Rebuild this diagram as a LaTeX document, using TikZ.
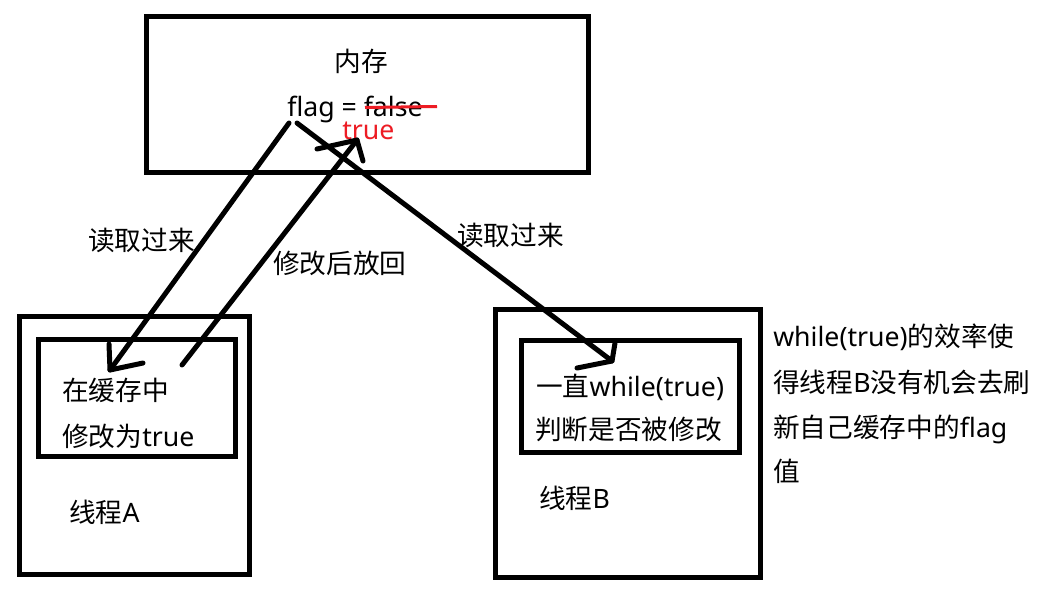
\documentclass[tikz,border=0pt]{standalone}
\usepackage{fontspec}
\setmainfont{Noto Sans}
\newfontfamily\cjk{Noto Sans CJK SC}
\definecolor{pred}{RGB}{237,28,36}
\begin{document}
\begin{tikzpicture}[x=0.75pt,y=-0.75pt,
  box/.style={draw=black,line width=3.75pt},
  arr/.style={draw=black,line width=3.75pt,line cap=round,line join=round},
  txt/.style={inner sep=0,anchor=base west,font=\fontsize{20}{24}\selectfont}]
\useasboundingbox[fill=white] (0,0) rectangle (1044,600);

% boxes
\draw[box] (146,16) rectangle (588,172);
\draw[box] (19.5,316) rectangle (249.5,574);
\draw[box] (38.5,339) rectangle (235,456);
\draw[box] (495.5,309.5) rectangle (760.5,577.5);
\draw[box] (521.5,340.5) rectangle (739.5,452.5);

% memory texts
\node[txt,anchor=base] (mem) at (361,71) {\cjk 内存};
\node[txt] (flag) at (287,116) {flag = false};
\draw[pred,line width=2.25pt] (365,107.5) -- (437,106.5);
\node[txt,text=pred] (tru) at (342,139) {true};

% thread A texts
\node[txt] (a1) at (62,400) {{\cjk 在缓存中}};
\node[txt] (a2) at (62,446) {{\cjk 修改为}true};
\node[txt] (ta) at (69,522) {{\cjk 线程}A};

% thread B texts
\node[txt] (b1) at (536,396) {{\cjk 一直}while(true)};
\node[txt] (b2) at (535,439) {\cjk 判断是否被修改};
\node[txt] (tb) at (539,508) {{\cjk 线程}B};

% note
\node[txt] (n1) at (773,346) {while(true){\cjk 的效率使}};
\node[txt] (n2) at (773,392) {{\cjk 得线程}B{\cjk 没有机会去刷}};
\node[txt] (n3) at (773,437) {{\cjk 新自己缓存中的}flag};
\node[txt] (n4) at (773,481) {\cjk 值};

% labels
\node[txt] (l1) at (88,250) {\cjk 读取过来};
\node[txt] (l2) at (273,273) {\cjk 修改后放回};
\node[txt] (l3) at (457,245) {\cjk 读取过来};

% connector coordinates
\coordinate (s1) at (289,123);
\coordinate (e1) at (110,370);
\coordinate (s2) at (182,365);
\coordinate (e2) at (357,140);
\coordinate (s3) at (297,123);
\coordinate (e3) at (612,361);

% arrows
\draw[arr] (s1) -- (e1);
\draw[arr] (109,344) -- (e1) -- (143,363);
\draw[arr] (s2) -- (e2);
\draw[arr] (317,149) -- (e2) -- (363,161);
\draw[arr] (s3) -- (e3);
\draw[arr] (615,343) -- (e3) -- (577,368);
\end{tikzpicture}
\end{document}
